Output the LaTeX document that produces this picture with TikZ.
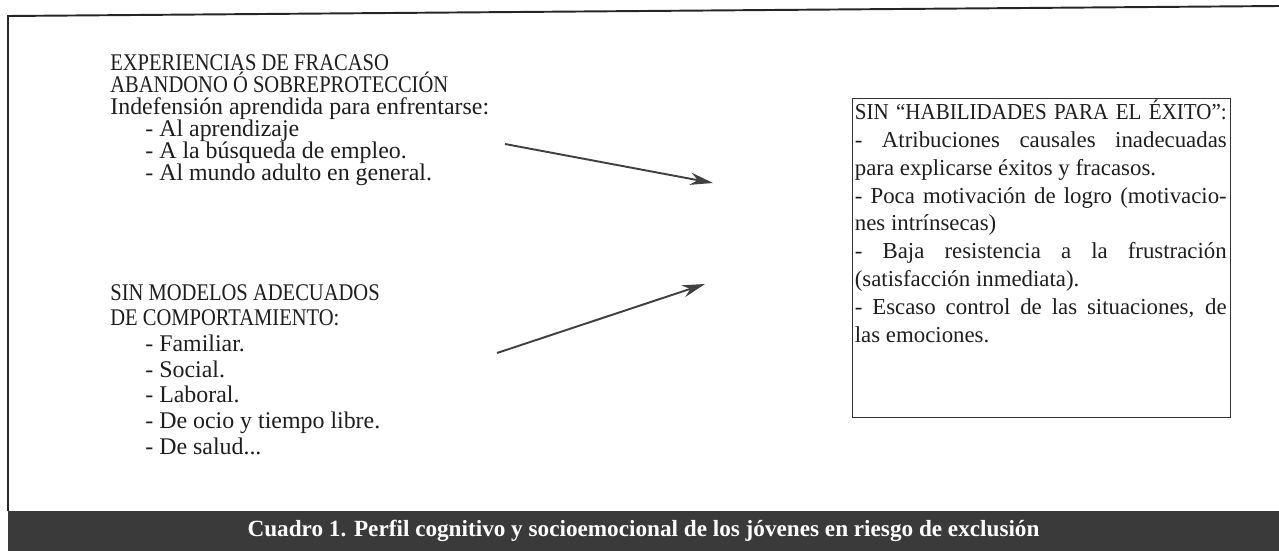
\documentclass[tikz,border=0pt]{standalone}
\usepackage{fontspec}
\setmainfont{Liberation Serif}
\newfontfamily\condfont[FakeStretch=0.86]{Liberation Serif}
\newfontfamily\headfont[FakeStretch=0.92]{Liberation Serif}
\usetikzlibrary{arrows.meta,positioning}

\definecolor{barcolor}{HTML}{3A3A3A}
\definecolor{inkcolor}{HTML}{1E1E1E}

\def\indentsep{0.7cm}

\begin{document}
\begin{tikzpicture}[x=0.02cm,y=-0.02cm,>={Stealth[length=13pt,width=7pt]}]
    \tikzstyle{frame line}=[line width=1.1pt,draw=black!85]
    \tikzstyle{block}=[anchor=north west,inner sep=0pt,align=left,text=inkcolor]
    \tikzstyle{cause block}=[block,font=\fontsize{13.6}{12.6}\selectfont]
    \tikzstyle{model block}=[block,font=\fontsize{13.6}{14.6}\selectfont]
    \tikzstyle{skill box}=[draw=black!80,line width=0.8pt,anchor=north west,minimum width=7.56cm,minimum height=6.38cm,inner sep=0pt]
    \tikzstyle{skill text}=[anchor=north west,inner xsep=0.05cm,inner ysep=0.04cm,text width=7.44cm,align=justify,text=inkcolor,font=\fontsize{13}{15.8}\selectfont]
    \tikzstyle{cause arrow}=[->,line width=1.1pt,draw=black!75,fill=black!75]
    \tikzstyle{caption bar}=[fill=barcolor,text=white,minimum width=25.42cm,minimum height=0.8cm,inner sep=0pt,font=\fontsize{13.2}{14}\selectfont\bfseries]

    \useasboundingbox (0,0) rectangle (1279,551);

    % Draw the outer frame
    \draw[frame line] (1279,6) -- (8,16) -- (8,511);

    % Draw the two cause blocks
    \node[cause block] (fracaso) at (110,54) {%
        {\condfont EXPERIENCIAS DE FRACASO}\\
        {\condfont ABANDONO Ó SOBREPROTECCIÓN}\\
        Indefensión aprendida para enfrentarse:\\
        \hspace*{\indentsep}- Al aprendizaje\\
        \hspace*{\indentsep}- A la búsqueda de empleo.\\
        \hspace*{\indentsep}- Al mundo adulto en general.};
    \node[model block] (modelos) at (110,284) {%
        {\condfont SIN MODELOS ADECUADOS}\\
        {\condfont DE COMPORTAMIENTO:}\\
        \hspace*{\indentsep}- Familiar.\\
        \hspace*{\indentsep}- Social.\\
        \hspace*{\indentsep}- Laboral.\\
        \hspace*{\indentsep}- De ocio y tiempo libre.\\
        \hspace*{\indentsep}- De salud...};

    % Draw the box with the missing skills
    \node[skill box] (exito) at (852,98) {};
    \node[skill text] (exito-text) at (exito.north west) {\sloppy
        \makebox[\linewidth][s]{\headfont SIN “HABILIDADES PARA EL ÉXITO”:}\\
        - Atribuciones causales inadecuadas\linebreak para explicarse éxitos y fracasos.\\
        - Poca motivación de logro (motivacio-\linebreak nes intrínsecas)\\
        - Baja resistencia a la frustración\linebreak (satisfacción inmediata).\\
        - Escaso control de las situaciones, de\linebreak las emociones.};

    % Connect the causes with the box
    \coordinate (fracaso-tail) at (505,144);
    \coordinate (fracaso-tip) at (713,183);
    \coordinate (modelos-tail) at (497,353);
    \coordinate (modelos-tip) at (705,284);
    \draw[cause arrow] (fracaso-tail) -- (fracaso-tip);
    \draw[cause arrow] (modelos-tail) -- (modelos-tip);

    % Caption
    \node[caption bar] (caption) at (643.5,531) {Cuadro 1. Perfil cognitivo y socioemocional de los jóvenes en riesgo de exclusión};
\end{tikzpicture}
\end{document}
